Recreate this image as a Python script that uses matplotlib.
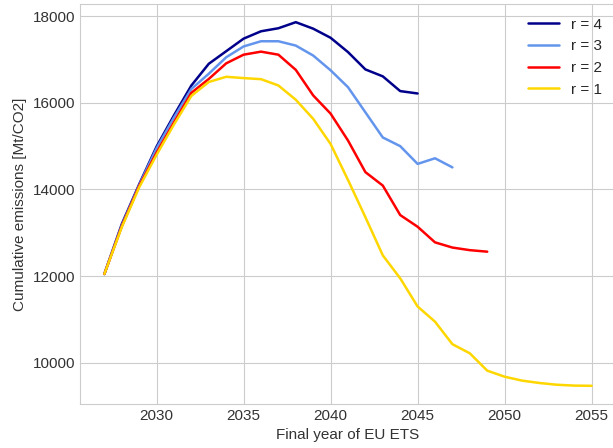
import numpy as np
import matplotlib
matplotlib.use('Agg')
import matplotlib.pyplot as plt
import seaborn as sns

sns.set_style('whitegrid')
plt.rcParams['font.family'] = ['Liberation Sans', 'DejaVu Sans']

# cumulative emissions per final year of the EU ETS, one series per r
years_r4 = list(range(2027, 2046))
cum_r4 = [12050, 13200, 14120, 14990, 15710, 16400, 16900, 17190, 17480, 17650,
          17720, 17860, 17710, 17500, 17170, 16770, 16610, 16270, 16215]

years_r3 = list(range(2027, 2048))
cum_r3 = [12050, 13170, 14100, 14950, 15660, 16320, 16670, 17050, 17300, 17420,
          17420, 17320, 17090, 16750, 16360, 15780, 15200, 15000, 14590, 14720,
          14510]

years_r2 = list(range(2027, 2050))
cum_r2 = [12050, 13150, 14080, 14850, 15550, 16230, 16550, 16910, 17110, 17180,
          17110, 16760, 16170, 15750, 15130, 14400, 14090, 13410, 13140, 12780,
          12660, 12600, 12565]

years_r1 = list(range(2027, 2056))
cum_r1 = [12050, 13130, 14050, 14800, 15500, 16160, 16480, 16600, 16570, 16545,
          16400, 16070, 15630, 15050, 14220, 13360, 12480, 11950, 11300, 10950,
          10430, 10220, 9820, 9680, 9590, 9535, 9495, 9475, 9470]

series = [
    ('r = 4', years_r4, cum_r4, 'darkblue'),
    ('r = 3', years_r3, cum_r3, 'cornflowerblue'),
    ('r = 2', years_r2, cum_r2, 'red'),
    ('r = 1', years_r1, cum_r1, 'gold'),
]

fig = plt.figure(figsize=(6.13, 4.48), dpi=100)
ax = fig.add_axes([80/613, 44/448, 536/613, 400/448])

for lab, x, y, c in series:
    ax.plot(x, y, color=c, linewidth=1.8, label=lab)

ax.set_xticks([2030, 2035, 2040, 2045, 2050, 2055])
ax.set_yticks([10000, 12000, 14000, 16000, 18000])
ax.tick_params(labelsize=11, colors='#333333', length=0)
ax.set_xlabel('Final year of EU ETS', fontsize=11, color='#333333')
ax.set_ylabel('Cumulative emissions [Mt/CO2]', fontsize=11, color='#333333')

ax.legend(loc='upper right', frameon=False, fontsize=11)

fig.savefig('out.png', dpi=100)
